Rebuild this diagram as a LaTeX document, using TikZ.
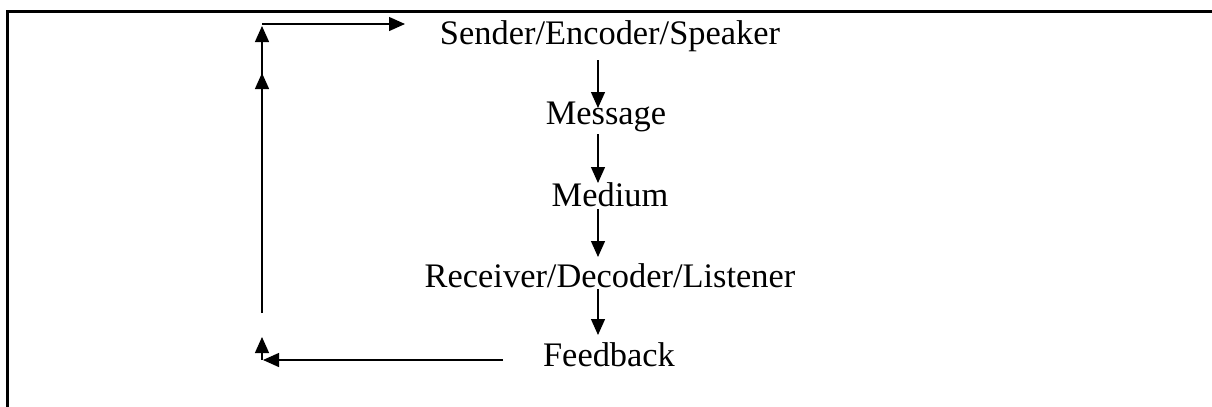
\documentclass[tikz,border=0pt]{standalone}
\usepackage{fontspec}
\setmainfont{Liberation Serif}
\usetikzlibrary{arrows.meta}
\begin{document}
\begin{tikzpicture}[x=0.5pt,y=-0.5pt,
 lbl/.style={anchor=base,inner sep=0pt,font=\fontsize{17.2}{20}\selectfont},
 arr/.style={line width=0.65pt,-{Triangle[length=8pt,width=7pt]}},
 frame/.style={line width=1.5pt}]
\useasboundingbox (0,0) rectangle (1212,407);
\draw[frame] (7,407) -- (7,11) -- (1212,11);
\node[lbl] (send) at (610,44) {Sender/Encoder/Speaker};
\node[lbl] (msg) at (606,124) {Message};
\node[lbl] (med) at (610,206) {Medium};
\node[lbl] (recv) at (610,287) {Receiver/Decoder/Listener};
\node[lbl] (fb) at (609,366) {Feedback};
% vertical chain
\coordinate (a1s) at (598,60);  \coordinate (a1e) at (598,108);
\coordinate (a2s) at (598,134); \coordinate (a2e) at (598,183);
\coordinate (a3s) at (598,209); \coordinate (a3e) at (598,257);
\coordinate (a4s) at (598,289); \coordinate (a4e) at (598,335);
\draw[arr] (a1s) -- (a1e);
\draw[arr] (a2s) -- (a2e);
\draw[arr] (a3s) -- (a3e);
\draw[arr] (a4s) -- (a4e);
% feedback loop
\coordinate (fbl) at (503,360);
\coordinate (bl) at (263,360);
\coordinate (blc) at (262,360);
\coordinate (blt) at (262,337);
\coordinate (l0) at (262,313);
\coordinate (l1) at (262,73);
\coordinate (l2) at (262,88);
\coordinate (l3) at (262,26);
\coordinate (tl) at (262,24);
\coordinate (tr) at (405,24);
\draw[arr] (fbl) -- (bl);
\draw[arr] (blc) -- (blt);
\draw[arr] (l0) -- (l1);
\draw[arr] (l2) -- (l3);
\draw[arr] (tl) -- (tr);
\end{tikzpicture}
\end{document}
